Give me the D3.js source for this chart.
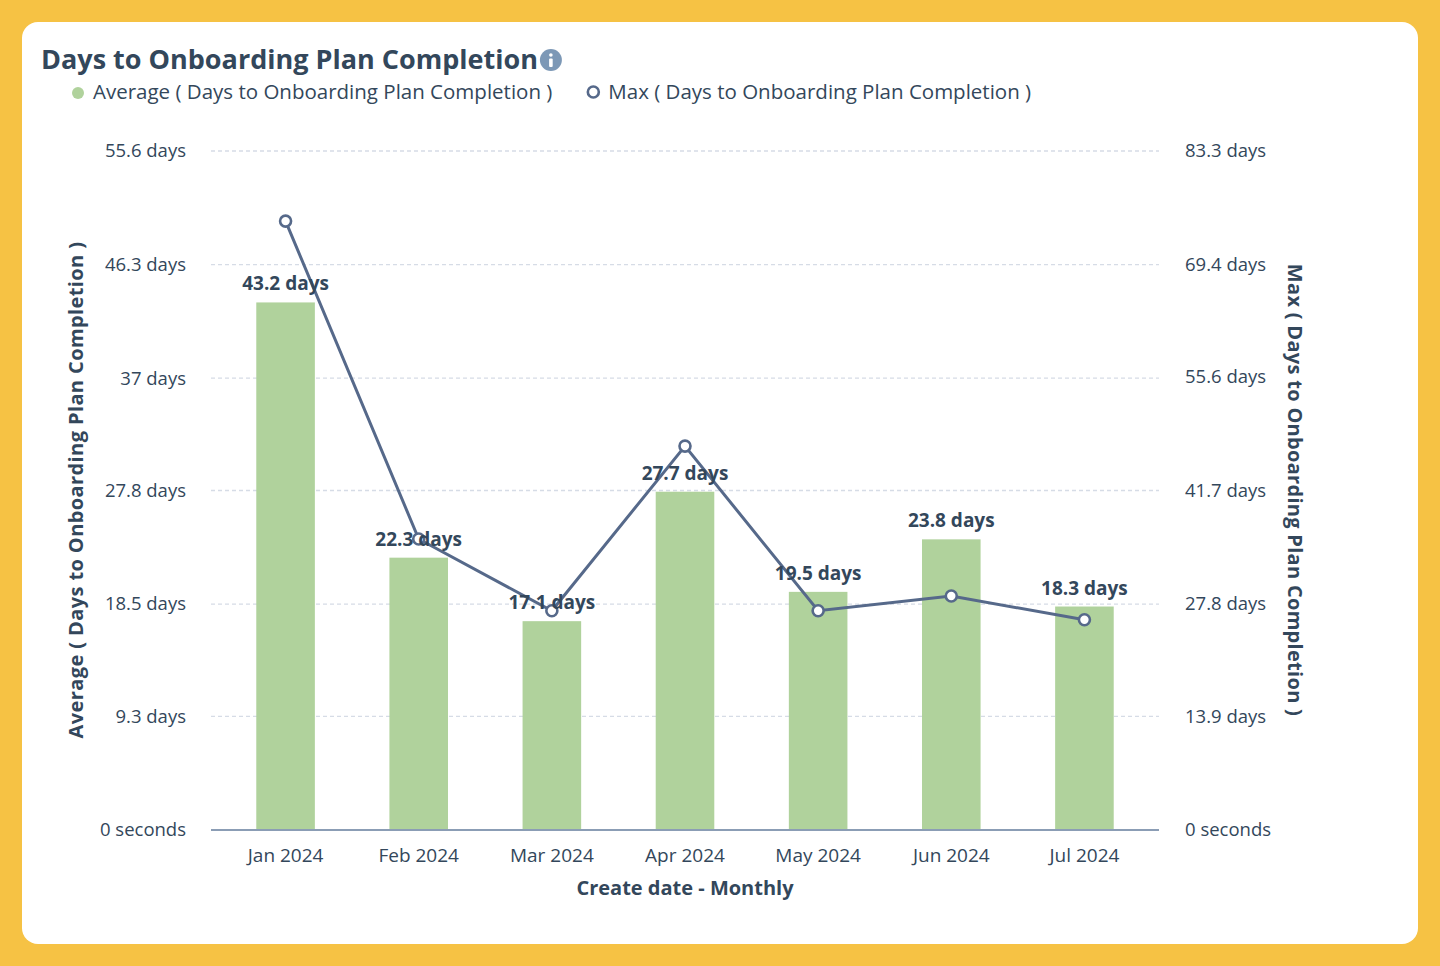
<!DOCTYPE html>
<html>
<head>
<meta charset="utf-8">
<script src="https://cdn.jsdelivr.net/npm/d3@7"></script>
<style>
  html, body { margin: 0; padding: 0; background: #f6c244; }
  svg { display: block; font-family: "Open Sans", sans-serif; }
</style>
</head>
<body>
<div id="chart"></div>
<script>
const months = ["Jan 2024", "Feb 2024", "Mar 2024", "Apr 2024", "May 2024", "Jun 2024", "Jul 2024"];
const avgDays = [43.2, 22.3, 17.1, 27.7, 19.5, 23.8, 18.3];
const maxDays = [74.7, 35.7, 26.9, 47.1, 26.9, 28.7, 25.8];
const leftTicks = [0, 9.3, 18.5, 27.8, 37, 46.3, 55.6];
const rightTicks = [0, 13.9, 27.8, 41.7, 55.6, 69.4, 83.3];

const width = 1440, height = 966;
const plot = { left: 211, right: 1159, top: 151, bottom: 830 };
const ink = "#33475b";
const font = "'Open Sans', sans-serif";

const fmt = v => v === 0 ? "0 seconds" : `${v} days`;

const svg = d3.select("#chart").append("svg")
    .attr("width", width)
    .attr("height", height);

// card
svg.append("rect")
    .attr("x", 22).attr("y", 22)
    .attr("width", 1396).attr("height", 922)
    .attr("rx", 16)
    .attr("fill", "#fff");

// scales
const x = d3.scaleBand()
    .domain(months)
    .range([219, 1151])
    .paddingInner(0.56)
    .paddingOuter(0.28);

const yL = d3.scaleLinear().domain([0, 55.6]).range([plot.bottom, plot.top]);
const yR = d3.scaleLinear().domain([0, 83.3]).range([plot.bottom, plot.top]);

// gridlines
svg.append("g")
   .selectAll("line")
   .data(leftTicks.filter(d => d > 0))
   .join("line")
   .attr("x1", plot.left).attr("x2", plot.right)
   .attr("y1", d => yL(d)).attr("y2", d => yL(d))
   .attr("stroke", "#d6dce6")
   .attr("stroke-width", 1.3)
   .attr("stroke-dasharray", "4,3");

// left axis
const leftAxis = svg.append("g")
   .attr("transform", `translate(${plot.left - 25}, 0)`)
   .call(d3.axisLeft(yL).tickValues(leftTicks).tickFormat(fmt).tickSize(0).tickPadding(0));
leftAxis.select(".domain").remove();
leftAxis.selectAll("text")
   .attr("font-size", 18.5).attr("fill", ink).attr("font-family", font);

// right axis
const rightAxis = svg.append("g")
   .attr("transform", `translate(${plot.right + 26}, 0)`)
   .call(d3.axisRight(yR).tickValues(rightTicks).tickFormat(fmt).tickSize(0).tickPadding(0));
rightAxis.select(".domain").remove();
rightAxis.selectAll("text")
   .attr("font-size", 18.5).attr("fill", ink).attr("font-family", font);

// bars
svg.append("g")
   .selectAll("rect")
   .data(months)
   .join("rect")
   .attr("x", d => x(d))
   .attr("y", (d, i) => yL(avgDays[i]))
   .attr("width", x.bandwidth())
   .attr("height", (d, i) => plot.bottom - yL(avgDays[i]))
   .attr("fill", "#b0d29c");

// baseline
svg.append("line")
   .attr("x1", plot.left).attr("x2", plot.right)
   .attr("y1", plot.bottom).attr("y2", plot.bottom)
   .attr("stroke", "#8b9db5")
   .attr("stroke-width", 2);

// bottom axis labels
const bottomAxis = svg.append("g")
   .attr("transform", `translate(0, ${plot.bottom})`)
   .call(d3.axisBottom(x).tickSize(0).tickPadding(19));
bottomAxis.select(".domain").remove();
bottomAxis.selectAll("text")
   .attr("font-size", 19).attr("fill", ink).attr("font-family", font);

// line
const cx = d => x(d) + x.bandwidth() / 2;
const line = d3.line()
   .x((d, i) => cx(months[i]))
   .y(d => yR(d));

svg.append("path")
   .datum(maxDays)
   .attr("d", line)
   .attr("fill", "none")
   .attr("stroke", "#56698a")
   .attr("stroke-width", 3);

svg.append("g")
   .selectAll("circle")
   .data(maxDays)
   .join("circle")
   .attr("cx", (d, i) => cx(months[i]))
   .attr("cy", d => yR(d))
   .attr("r", 5.5)
   .attr("fill", "#fff")
   .attr("stroke", "#56698a")
   .attr("stroke-width", 2.6);

// bar value labels
svg.append("g")
   .selectAll("text")
   .data(avgDays)
   .join("text")
   .attr("x", (d, i) => cx(months[i]))
   .attr("y", d => yL(d) - 12)
   .attr("text-anchor", "middle")
   .attr("font-size", 19)
   .attr("font-weight", "bold")
   .attr("fill", ink)
   .text(d => `${d} days`);

// axis titles
svg.append("text")
   .attr("transform", `translate(83, 490) rotate(-90)`)
   .attr("text-anchor", "middle")
   .attr("font-size", 20)
   .attr("letter-spacing", 0.4)
   .attr("font-weight", "bold")
   .attr("fill", ink)
   .text("Average ( Days to Onboarding Plan Completion )");

svg.append("text")
   .attr("transform", `translate(1288, 490) rotate(90)`)
   .attr("text-anchor", "middle")
   .attr("font-size", 20)
   .attr("letter-spacing", 0.3)
   .attr("font-weight", "bold")
   .attr("fill", ink)
   .text("Max ( Days to Onboarding Plan Completion )");

svg.append("text")
   .attr("x", 685)
   .attr("y", 895)
   .attr("text-anchor", "middle")
   .attr("font-size", 20)
   .attr("font-weight", "bold")
   .attr("fill", ink)
   .text("Create date - Monthly");

// title
const title = svg.append("text")
   .attr("x", 41).attr("y", 69)
   .attr("font-size", 27)
   .attr("font-weight", "bold")
   .attr("fill", ink)
   .text("Days to Onboarding Plan Completion");

const tw = title.node().getComputedTextLength();
const info = svg.append("g").attr("transform", `translate(${41 + tw + 13}, 60)`);
info.append("circle").attr("r", 11).attr("fill", "#7c98b6");
info.append("circle").attr("cy", -5).attr("r", 1.8).attr("fill", "#fff");
info.append("rect").attr("x", -1.8).attr("y", -1.5).attr("width", 3.6).attr("height", 8.5).attr("rx", 1).attr("fill", "#fff");

// legend
const legend = svg.append("g");
legend.append("circle")
   .attr("cx", 78).attr("cy", 93).attr("r", 6)
   .attr("fill", "#b0d29c");
const leg1 = legend.append("text")
   .attr("x", 93).attr("y", 99)
   .attr("font-size", 20.5).attr("fill", ink)
   .text("Average ( Days to Onboarding Plan Completion )");
const l1w = leg1.node().getComputedTextLength();
legend.append("circle")
   .attr("cx", 93 + l1w + 41).attr("cy", 92).attr("r", 5.5)
   .attr("fill", "#fff").attr("stroke", "#56698a").attr("stroke-width", 2.6);
legend.append("text")
   .attr("x", 93 + l1w + 56).attr("y", 99)
   .attr("font-size", 20.5).attr("fill", ink)
   .text("Max ( Days to Onboarding Plan Completion )");
</script>
</body>
</html>
